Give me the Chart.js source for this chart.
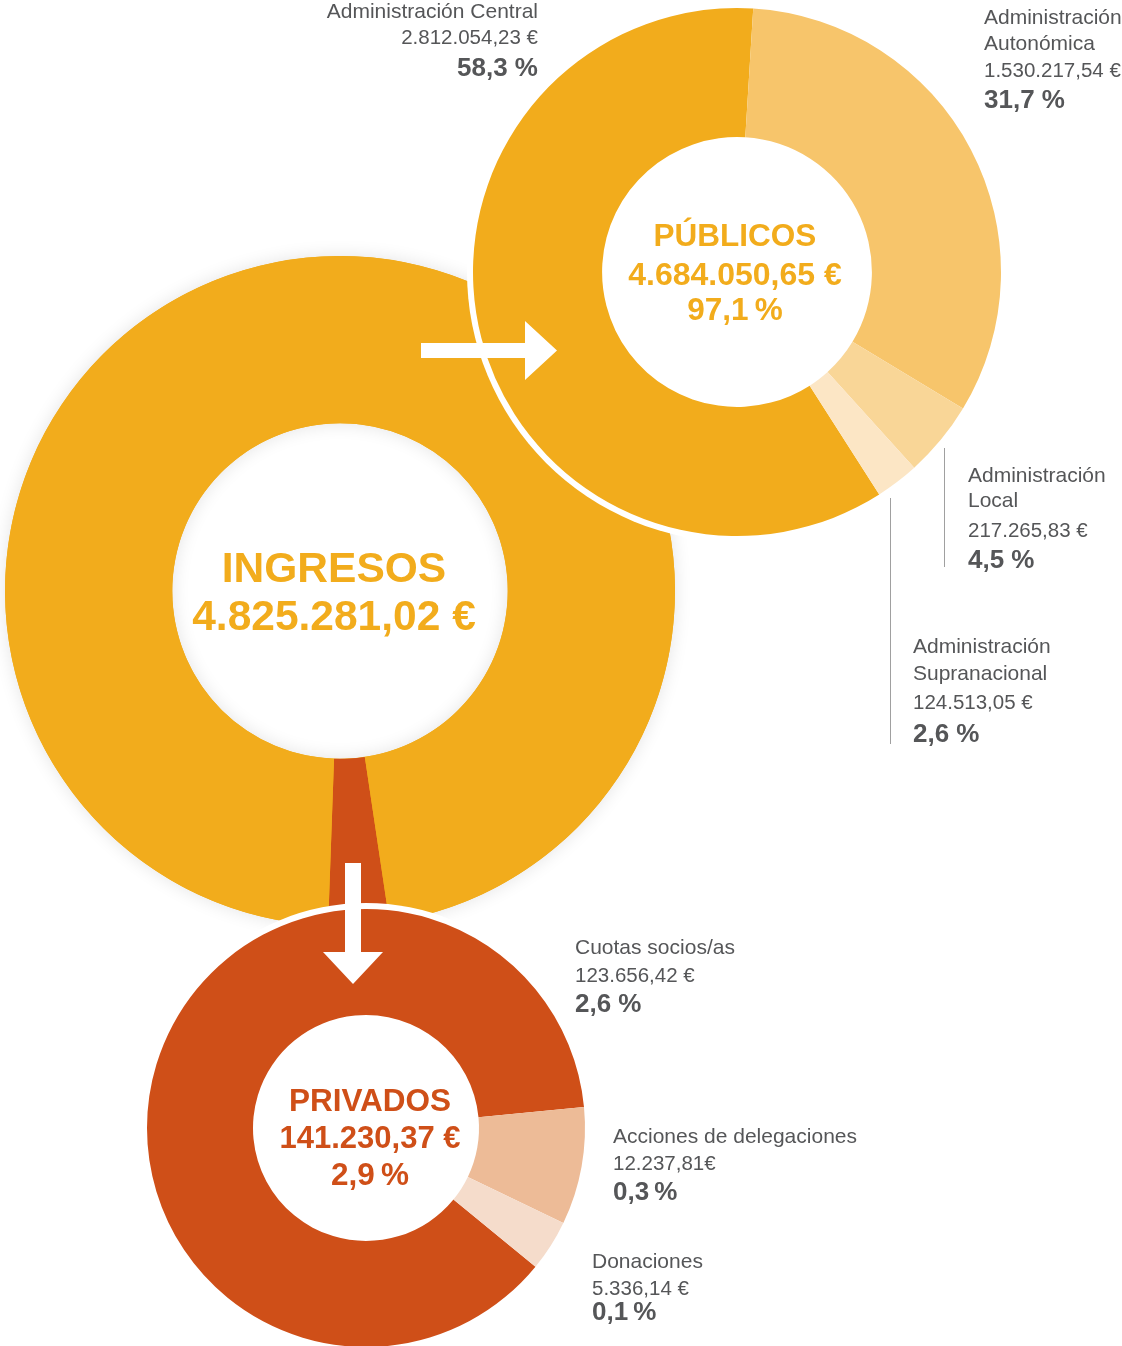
<!DOCTYPE html>
<html lang="es">
<head>
<meta charset="utf-8">
<script src="https://cdn.jsdelivr.net/npm/chart.js@4.4.1/dist/chart.umd.min.js"></script>
<style>
  html, body { margin:0; padding:0; background:#fff; }
  #stage { position:relative; width:1122px; height:1346px; overflow:hidden; font-family:'Liberation Sans', Arial, sans-serif; }
  #stage canvas { position:absolute; }
  .t { position:absolute; white-space:nowrap; line-height:1; }
  #deco { position:absolute; left:0; top:0; }
</style>
</head>
<body>
<div id="stage">
  <canvas id="totalChart" width="710" height="710" style="left:-15px;top:236px"></canvas>
  <canvas id="publicChart" width="548" height="548" style="left:463px;top:-2px"></canvas>
  <canvas id="privateChart" width="458" height="458" style="left:137px;top:899px"></canvas>
  <svg id="deco" width="1122" height="1346">
    <polygon fill="#fff" points="421,343 525,343 525,321 557,350.5 525,380 525,358 421,358"/>
    <polygon fill="#fff" points="345,863 361,863 361,952 383,952 353,984 323,952 345,952"/>
    <line x1="944.5" y1="448" x2="944.5" y2="567" stroke="#a0a0a0" stroke-width="1"/>
    <line x1="890.5" y1="498" x2="890.5" y2="744" stroke="#a0a0a0" stroke-width="1"/>
  </svg>
</div>
<script>
// datos
const publicNames   = ['Administración Central', 'Administración Autonómica', 'Administración Local', 'Administración Supranacional'];
const publicAmounts = [2812054.23, 1530217.54, 217265.83, 124513.05];
const publicShares  = [58.3, 31.7, 4.5, 2.6];

const privateNames   = ['Cuotas socios/as', 'Acciones de delegaciones', 'Donaciones'];
const privateAmounts = [123656.42, 12237.81, 5336.14];
const privateShares  = [2.6, 0.3, 0.1];

const totalNames   = ['PRIVADOS', 'PÚBLICOS'];
const totalAmounts = [141230.37, 4684050.65];
const totalShares  = [2.9, 97.1];
const grandTotal   = 4825281.02;

const ORANGE = '#F2AC1C';
const RUST   = '#CF4F18';
const GREY   = '#555658';

const publicColors  = [ORANGE, '#F7C56B', '#F9D697', '#FCE6C5'];
const privateColors = [RUST, '#EDBB97', '#F5DCCB'];
const totalColors   = [RUST, ORANGE];

// where the label blocks sit (first baselines), kept apart from the data
const publicLayout = [
  { x:538, align:'right', base:[18, 44, 76], wrap:false },
  { x:984, align:'left',  base:[24, 50, 77, 108], wrap:true },
  { x:968, align:'left',  base:[482, 507, 537, 568], wrap:true },
  { x:913, align:'left',  base:[653, 680, 709, 742], wrap:true },
];
const privateLayout = [
  { x:575, base:[954, 982, 1012],   amtSep:' ', pctSep:' ' },
  { x:613, base:[1143, 1170, 1200], amtSep:'',  pctSep:'\u2009' },
  { x:592, base:[1268, 1295, 1320], amtSep:' ', pctSep:'\u2009' },
];

const euro = (v, sep = ' ') => {
  const [i, d] = v.toFixed(2).split('.');
  return i.replace(/\B(?=(\d{3})+(?!\d))/g, '.') + ',' + d + sep + '€';
};
const pct = (v, sep = ' ') => v.toFixed(1).replace('.', ',') + sep + '%';

const stage = document.getElementById('stage');
function put(text, x, base, size, weight, color, align) {
  const d = document.createElement('div');
  d.className = 't';
  d.textContent = text;
  d.style.fontSize = size + 'px';
  d.style.fontWeight = weight;
  d.style.color = color;
  d.style.top = (base - 0.8465 * size) + 'px';
  if (align === 'right') d.style.right = (1122 - x) + 'px';
  else if (align === 'center') { d.style.left = (x - 300) + 'px'; d.style.width = '600px'; d.style.textAlign = 'center'; }
  else d.style.left = x + 'px';
  stage.appendChild(d);
}

// white ring behind a donut, or a soft shadow under it
function halo(opts) {
  return {
    id: 'halo',
    beforeDatasetsDraw(chart) {
      const arc = chart.getDatasetMeta(0).data[0];
      if (!arc) return;
      const { x, y, outerRadius, innerRadius } = arc.getProps(['x', 'y', 'outerRadius', 'innerRadius'], true);
      const ctx = chart.ctx;
      ctx.save();
      if (opts.ring) {
        ctx.fillStyle = '#fff';
        ctx.beginPath();
        ctx.arc(x, y, outerRadius + opts.ring, 0, Math.PI * 2);
        ctx.fill();
      }
      if (opts.shadow) {
        ctx.shadowColor = opts.shadow;
        ctx.shadowBlur = opts.blur;
        ctx.fillStyle = opts.fill;
        ctx.beginPath();
        ctx.arc(x, y, outerRadius, 0, Math.PI * 2);
        ctx.arc(x, y, innerRadius, 0, Math.PI * 2, true);
        ctx.fill();
      }
      ctx.restore();
    }
  };
}

function donut(id, labels, data, colors, cutout, rotation, pad, plugin) {
  return new Chart(document.getElementById(id), {
    type: 'doughnut',
    data: { labels, datasets: [{ data, backgroundColor: colors, borderWidth: 0, hoverOffset: 0 }] },
    options: {
      responsive: false,
      animation: false,
      events: [],
      cutout, rotation,
      layout: { padding: pad },
      plugins: { legend: { display: false }, tooltip: { enabled: false } }
    },
    plugins: [plugin]
  });
}

donut('totalChart', totalNames, totalAmounts, totalColors, '50.1%', 171.5, 20,
  halo({ shadow: 'rgba(0,0,0,0.11)', blur: 18, fill: ORANGE }));
donut('publicChart', publicNames, publicAmounts, publicColors, '51.1%', -212.6, 10, halo({ ring: 6 }));
donut('privateChart', privateNames, privateAmounts, privateColors, '51.6%', -230.7, 10, halo({ ring: 6 }));

// centre texts
put('INGRESOS', 334, 583, 42.5, 'bold', ORANGE, 'center');
put(euro(grandTotal), 334, 631, 42.5, 'bold', ORANGE, 'center');

put(totalNames[1], 735, 247, 31.5, 'bold', ORANGE, 'center');
put(euro(totalAmounts[1]), 735, 285, 32, 'bold', ORANGE, 'center');
put(pct(totalShares[1], '\u2009'), 735, 321, 31.5, 'bold', ORANGE, 'center');

put(totalNames[0], 370, 1112, 31.5, 'bold', RUST, 'center');
put(euro(totalAmounts[0]), 370, 1148, 31, 'bold', RUST, 'center');
put(pct(totalShares[0], '\u2009'), 370, 1186, 31.5, 'bold', RUST, 'center');

// side labels
publicNames.forEach((name, i) => {
  const L = publicLayout[i];
  const lines = L.wrap ? [name.slice(0, name.indexOf(' ')), name.slice(name.indexOf(' ') + 1)] : [name];
  lines.forEach((ln, k) => put(ln, L.x, L.base[k], 21, 'normal', GREY, L.align));
  put(euro(publicAmounts[i]), L.x, L.base[lines.length], 20.5, 'normal', GREY, L.align);
  put(pct(publicShares[i]), L.x, L.base[lines.length + 1], 26, 'bold', GREY, L.align);
});

privateNames.forEach((name, i) => {
  const L = privateLayout[i];
  put(name, L.x, L.base[0], 21, 'normal', GREY, 'left');
  put(euro(privateAmounts[i], L.amtSep), L.x, L.base[1], 20.5, 'normal', GREY, 'left');
  put(pct(privateShares[i], L.pctSep), L.x, L.base[2], 26, 'bold', GREY, 'left');
});
</script>
</body>
</html>
